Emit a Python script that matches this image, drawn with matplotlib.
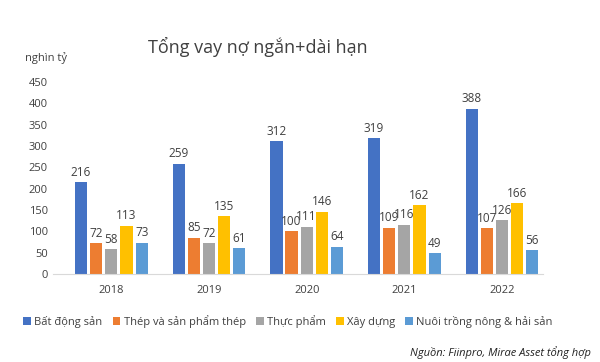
import matplotlib
matplotlib.use('Agg')
import matplotlib.pyplot as plt
import numpy as np

plt.rcParams['font.family'] = ['Open Sans', 'DejaVu Sans']

# Data
years = ['2018', '2019', '2020', '2021', '2022']
series_names = ['Bất động sản', 'Thép và sản phẩm thép', 'Thực phẩm',
                'Xây dựng', 'Nuôi trồng nông & hải sản']
bat_dong_san = [216, 259, 312, 319, 388]
thep = [72, 85, 100, 109, 107]
thuc_pham = [58, 72, 111, 116, 126]
xay_dung = [113, 135, 146, 162, 166]
nuoi_trong = [73, 61, 64, 49, 56]
colors = ['#4472C4', '#ED7D31', '#A5A5A5', '#FFC000', '#5B9BD5']

all_series = [bat_dong_san, thep, thuc_pham, xay_dung, nuoi_trong]

fig = plt.figure(figsize=(6, 3.62), dpi=100)
ax = fig.add_axes([0.088, 0.243, 0.817, 0.53])

x = np.arange(len(years))
width = 0.125
pitch = 0.155
for i, (vals, name, col) in enumerate(zip(all_series, series_names, colors)):
    pos = x + (i - 2) * pitch
    bars = ax.bar(pos, vals, width, color=col, label=name)
    for b in bars:
        h = b.get_height()
        ax.text(b.get_x() + b.get_width() / 2, h + 8, f'{int(h)}',
                ha='center', va='bottom', fontsize=8.5, color='#404040')

ax.set_ylim(0, 450)
ax.set_xlim(-0.6, 4.42)
ax.set_yticks(range(0, 451, 50))
ax.set_xticks(x)
ax.set_xticklabels(years)
ax.tick_params(axis='both', length=0, labelsize=8, colors='#404040')
ax.tick_params(axis='x', pad=8)
for s in ['top', 'right', 'left']:
    ax.spines[s].set_visible(False)
ax.spines['bottom'].set_color('#D9D9D9')

fig.text(0.43, 0.87, 'Tổng vay nợ ngắn+dài hạn', ha='center', va='center',
         fontsize=13, color='#404040')
fig.text(0.042, 0.84, 'nghìn tỷ', ha='left', va='center', fontsize=8, color='#404040')

fig.legend(loc='center', bbox_to_anchor=(0.48, 0.113), ncol=5, frameon=False,
           fontsize=8, handlelength=0.7, handleheight=0.7, handletextpad=0.3,
           columnspacing=0.9, labelcolor='#404040')

fig.text(0.985, 0.027, 'Nguồn: Fiinpro, Mirae Asset tổng hợp', ha='right',
         va='center', fontsize=8, style='italic', color='#222222')

fig.savefig('out.png', dpi=100)
